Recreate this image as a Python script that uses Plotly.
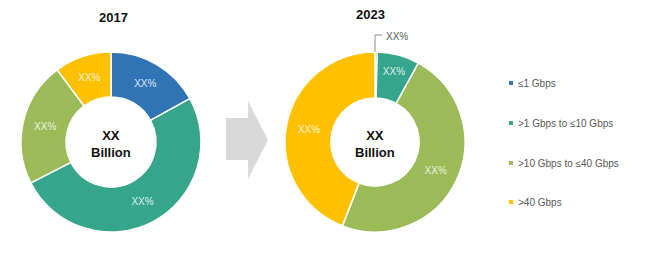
import plotly.graph_objects as go

W, H = 650, 279

categories = ["≤1 Gbps", ">1 Gbps to ≤10 Gbps", ">10 Gbps to ≤40 Gbps", ">40 Gbps"]
colors = ["#2f75b5", "#35a68b", "#9bbb59", "#ffc000"]
values_2017 = [17, 50.5, 22.3, 10.2]
values_2023 = [0.4, 7.6, 47.9, 44.1]
slice_labels_2017 = ["XX%", "XX%", "XX%", "XX%"]
slice_labels_2023 = ["", "XX%", "XX%", "XX%"]
years = ["2017", "2023"]
center_text = "XX<br>Billion"


def px_x(x):
    return x / W


def px_y(y):
    return 1 - y / H


fig = go.Figure()

label_font = dict(family="Liberation Sans Narrow, Arial Narrow, sans-serif", size=10, color="rgba(255,255,255,0.85)")

fig.add_trace(go.Pie(
    labels=categories, values=values_2017, text=slice_labels_2017,
    textinfo="text", textposition="inside", insidetextorientation="horizontal",
    insidetextfont=label_font,
    hole=0.5, sort=False, direction="clockwise", rotation=0,
    marker=dict(colors=colors, line=dict(color="white", width=1.5)),
    domain=dict(x=[px_x(21), px_x(201)], y=[px_y(232), px_y(52)]),
    showlegend=False,
))

fig.add_trace(go.Pie(
    labels=categories, values=values_2023, text=slice_labels_2023,
    textinfo="text", textposition="inside", insidetextorientation="horizontal",
    insidetextfont=label_font,
    hole=0.49, sort=False, direction="clockwise", rotation=0,
    marker=dict(colors=colors, line=dict(color="white", width=1.5)),
    domain=dict(x=[px_x(285), px_x(465)], y=[px_y(232), px_y(52)]),
    showlegend=False,
))

annotations = []
shapes = []

# Titles
for yr, cx, ty in zip(years, [113, 370], [18, 14]):
    annotations.append(dict(
        x=px_x(cx), y=px_y(ty), xref="paper", yref="paper", text=f"<b>{yr}</b>",
        showarrow=False, xanchor="center", yanchor="middle",
        font=dict(family="Liberation Sans, Arial, sans-serif", size=13, color="#111111"),
    ))

# Center labels
for cx in [111, 375]:
    annotations.append(dict(
        x=px_x(cx), y=px_y(144), xref="paper", yref="paper", text=f"<b>{center_text}</b>",
        showarrow=False, xanchor="center", yanchor="middle",
        font=dict(family="Liberation Sans Narrow, Arial Narrow, sans-serif", size=13, color="#111111"),
    ))

# Leader line for tiny 2023 slice
shapes.append(dict(
    type="path", xref="paper", yref="paper",
    path=f"M{px_x(375)},{px_y(52)} L{px_x(375)},{px_y(35)} L{px_x(382)},{px_y(35)}",
    line=dict(color="#8c8c8c", width=1),
))
annotations.append(dict(
    x=px_x(384), y=px_y(36), xref="paper", yref="paper", text=slice_labels_2017[0],
    showarrow=False, xanchor="left", yanchor="middle",
    font=dict(family="Liberation Sans Narrow, Arial Narrow, sans-serif", size=10, color="#595959"),
))

# Arrow between charts
pts = [(226, 118), (248, 118), (248, 101), (268, 140), (248, 179), (248, 160), (226, 160)]
path = "M" + " L".join(f"{px_x(x)},{px_y(y)}" for x, y in pts) + " Z"
shapes.append(dict(type="path", xref="paper", yref="paper", path=path,
                   fillcolor="#d9d9d9", line=dict(width=0), layer="below"))

# Legend (manual)
legend_y = [83, 123, 163, 202]
for cat, col, ly in zip(categories, colors, legend_y):
    shapes.append(dict(type="rect", xref="paper", yref="paper",
                       x0=px_x(509), x1=px_x(513), y0=px_y(ly + 2), y1=px_y(ly - 2),
                       fillcolor=col, line=dict(width=0)))
    annotations.append(dict(
        x=px_x(516), y=px_y(ly), xref="paper", yref="paper", text=cat,
        showarrow=False, xanchor="left", yanchor="middle",
        font=dict(family="Liberation Sans, Arial, sans-serif", size=10, color="#595959"),
    ))

fig.update_layout(
    width=W, height=H,
    margin=dict(l=0, r=0, t=0, b=0),
    paper_bgcolor="white", plot_bgcolor="white",
    annotations=annotations, shapes=shapes,
    showlegend=False,
)

fig.write_html("out.html")
